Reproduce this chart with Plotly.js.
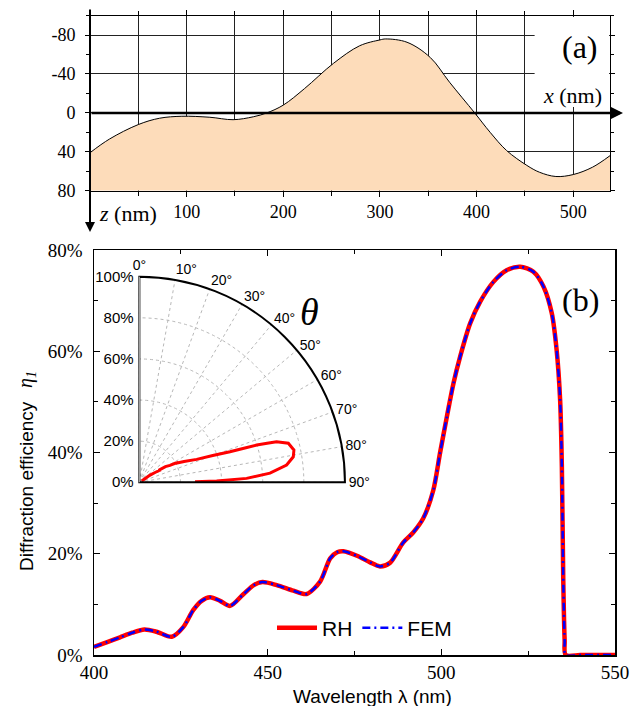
<!DOCTYPE html>
<html>
<head>
<meta charset="utf-8">
<script src="https://cdn.plot.ly/plotly-3.0.1.min.js"></script>
<style>html,body{margin:0;padding:0;background:#fff;}#chart{width:641px;height:706px;}</style>
</head>
<body>
<div id="chart"></div>
<script>
// ---- Panel (a): grating profile ----
const profX = [0, 20, 50, 72, 95, 124, 148, 169, 183, 200, 222, 252, 279, 300, 306, 328, 352, 372, 398, 414, 431, 452, 465, 482, 500, 520, 538];
const profZ = [41, 27, 12, 5.5, 3.5, 4.5, 7, 4, 0, -8, -25, -51, -69, -75, -76, -72.6, -57, -31.5, 0, 20, 38.7, 54, 61, 65.4, 63.4, 55.8, 44];
const profBaseX = [0, 538];
const profBaseZ = [80, 80];
const aYTicks = [-80, -40, 0, 40, 80];
const aYTickText = ['-80', '-40', '0', '40', '80'];
const aXTicks = [100, 200, 300, 400, 500];

// ---- Panel (b): diffraction efficiency ----
const wl = [400, 404, 407.5, 411, 414.5, 418, 422.4, 425.7, 428.6, 431, 433.4, 436.3, 439.2, 443, 446, 448.5, 452.6, 457.4, 461.2, 465.1, 468, 470, 471.8, 475.7, 479.5, 482.3, 485.2, 489, 491.9, 494.8, 497.7, 499.6, 501.6, 503.5, 505.4, 508.3, 511.2, 515, 518.8, 522.7, 526.5, 529.4, 531.8, 533.2, 534.2, 534.7, 535.1, 535.5, 535.8, 540, 545, 550];
const etaRH = [1.6, 2.6, 3.5, 4.4, 5.05, 4.6, 3.6, 5.5, 8.9, 10.7, 11.4, 10.7, 9.7, 12.0, 13.8, 14.4, 13.8, 12.7, 12.05, 14.5, 19.1, 20.3, 20.5, 19.6, 18.3, 17.5, 18.2, 22.2, 24.2, 27, 32.6, 39.8, 47.1, 53.7, 58.9, 65.5, 69.8, 73.7, 76.0, 76.7, 75.7, 72.8, 67.5, 60.2, 50.4, 37.2, 15, 3, 0, 0, 0, 0];
const etaFEM = [1.6, 2.6, 3.5, 4.4, 5.05, 4.6, 3.6, 5.5, 8.9, 10.7, 11.4, 10.7, 9.7, 12.0, 13.8, 14.4, 13.8, 12.7, 12.05, 14.5, 19.1, 20.3, 20.5, 19.6, 18.3, 17.5, 18.2, 22.2, 24.2, 27, 32.6, 39.8, 47.1, 53.7, 58.9, 65.5, 69.8, 73.7, 76.0, 76.7, 75.7, 72.8, 67.5, 60.2, 50.4, 37.2, 15, 3, 0, 0, 0, 0];

// ---- Inset: angular distribution ----
const polTheta = [62, 57, 56, 58, 60, 58, 59, 61, 62, 63, 62.5, 65, 68.2, 70, 71.4, 72, 72.4, 73, 73.5, 75.3, 78.2, 80.6, 83.3, 86, 87.9, 89, 89.4];
const polR = [1.3, 4, 6.3, 9, 12, 11, 14.8, 17, 19.7, 21, 20, 24, 30, 38, 46.5, 54, 59.9, 65, 69.6, 74.9, 76.8, 75.9, 72.1, 63.7, 52.2, 37.6, 27.1];

const SERIF = 'Liberation Serif';
const SANS = 'Liberation Sans';
const W = 641, H = 706;
const px = v => v / W;
const py = v => 1 - v / H;

const traces = [
  {x: profBaseX, y: profBaseZ, xaxis: 'x', yaxis: 'y', mode: 'lines', line: {width: 0, color: 'rgba(0,0,0,0)'}, showlegend: false, hoverinfo: 'skip'},
  {x: profX, y: profZ, xaxis: 'x', yaxis: 'y', mode: 'lines', line: {color: '#000', width: 1, shape: 'spline', smoothing: 1}, fill: 'tonexty', fillcolor: 'rgb(253,220,186)', showlegend: false},
  {x: wl, y: etaRH, xaxis: 'x2', yaxis: 'y2', mode: 'lines', name: 'RH', line: {color: '#ff0000', width: 4.5, shape: 'spline', smoothing: 0.8}},
  {x: wl, y: etaFEM, xaxis: 'x2', yaxis: 'y2', mode: 'lines', name: 'FEM', line: {color: '#0000ff', width: 2.5, dash: '8px,4px,2px,4px', shape: 'spline', smoothing: 0.8}},
  {type: 'scatterpolar', subplot: 'polar2', r: polR, theta: polTheta, mode: 'lines', line: {color: '#ff0000', width: 3}, showlegend: false}
];

const polDomX = [px(139.3), px(345)];
const polDomY = [py(482.3), py(276.7)];

const layout = {
  width: W, height: H,
  margin: {l: 0, r: 0, t: 0, b: 0},
  font: {family: SERIF, size: 18},
  paper_bgcolor: '#fff', plot_bgcolor: '#fff',
  showlegend: true,
  legend: {orientation: 'h', traceorder: 'normal', x: px(272), y: py(628), xanchor: 'left', yanchor: 'middle', bgcolor: 'rgba(0,0,0,0)', font: {family: SANS, size: 21, color: '#000'}, itemwidth: 40},
  xaxis: {
    domain: [px(90), px(610)], range: [0, 538], anchor: 'y',
    tickmode: 'array', tickvals: aXTicks,
    showgrid: true, gridcolor: '#222', gridwidth: 1, zeroline: false,
    showline: true, linecolor: '#000', linewidth: 1, mirror: 'ticks',
    ticks: 'outside', ticklen: 5, tickcolor: '#000',
    minor: {tick0: 0, dtick: 50, showgrid: true, gridcolor: '#222', gridwidth: 1, ticks: 'outside', ticklen: 4, tickcolor: '#000'},
    tickfont: {family: SERIF, size: 18, color: '#000'}
  },
  yaxis: {
    domain: [py(190.7), py(15.6)], range: [80, -100], anchor: 'x',
    tickmode: 'array', tickvals: aYTicks, ticktext: aYTickText,
    showgrid: true, gridcolor: '#222', gridwidth: 1, zeroline: false,
    showline: true, linecolor: '#000', linewidth: 1, mirror: 'ticks',
    ticks: 'outside', ticklen: 4, tickcolor: '#000',
    minor: {dtick: 20, ticks: 'outside', ticklen: 3, tickcolor: '#000', showgrid: false},
    tickfont: {family: SERIF, size: 18, color: '#000'}, ticklabelstandoff: 6
  },
  xaxis2: {
    domain: [px(94), px(615)], range: [400, 550], anchor: 'y2',
    dtick: 50, tick0: 400, showgrid: false, zeroline: false,
    showline: true, linecolor: '#000', linewidth: 1.5, mirror: 'ticks',
    ticks: 'inside', ticklen: 6, tickcolor: '#000', tickwidth: 1.2,
    minor: {dtick: 25, ticks: 'inside', ticklen: 4, tickcolor: '#000'},
    tickfont: {family: SERIF, size: 19, color: '#000'}
  },
  yaxis2: {
    domain: [py(655), py(250)], range: [0, 80], anchor: 'x2',
    dtick: 20, ticksuffix: '%', showgrid: false, zeroline: false,
    showline: true, linecolor: '#000', linewidth: 1.5, mirror: 'ticks',
    ticks: 'inside', ticklen: 6, tickcolor: '#000', tickwidth: 1.2,
    minor: {dtick: 10, ticks: 'inside', ticklen: 4, tickcolor: '#000'},
    tickfont: {family: SERIF, size: 19, color: '#000'}, ticklabelstandoff: 6
  },
  polar: {
    domain: {x: polDomX, y: polDomY}, sector: [0, 90], bgcolor: '#fff', hole: 0,
    angularaxis: {rotation: 90, direction: 'clockwise', tickmode: 'linear', tick0: 0, dtick: 5, showgrid: true, gridcolor: '#e6e6e6', gridwidth: 1, showticklabels: false, ticks: '', showline: false},
    radialaxis: {range: [0, 100], tickmode: 'linear', tick0: 0, dtick: 10, showgrid: true, gridcolor: '#e6e6e6', gridwidth: 1, showticklabels: false, ticks: '', angle: 0, showline: true, linecolor: '#000', linewidth: 2}
  },
  polar2: {
    domain: {x: polDomX, y: polDomY}, sector: [0, 90], bgcolor: 'rgba(0,0,0,0)', hole: 0,
    angularaxis: {rotation: 90, direction: 'clockwise', tickmode: 'linear', tick0: 0, dtick: 10, ticksuffix: '°', showgrid: true, gridcolor: '#b8b8b8', griddash: 'dot', gridwidth: 1, ticks: '', showline: true, linecolor: '#000', linewidth: 2, tickfont: {family: SANS, size: 14, color: '#000'}},
    radialaxis: {range: [0, 100], tickmode: 'linear', tick0: 0, dtick: 20, ticksuffix: '%', showgrid: true, gridcolor: '#b8b8b8', griddash: 'dot', gridwidth: 1, ticks: '', angle: 90, side: 'counterclockwise', tickangle: 90, showline: true, linecolor: '#bdbdbd', linewidth: 1, tickfont: {family: SANS, size: 15, color: '#000'}}
  },
  shapes: [
    {type: 'rect', xref: 'x', yref: 'y', x0: 460, x1: 537, y0: -98.6, y1: -6, fillcolor: '#fff', line: {width: 0}, layer: 'above'}
  ],
  annotations: [
    {xref: 'paper', yref: 'y', x: px(623), y: 0, ax: -533, ay: 0, text: '', showarrow: true, arrowhead: 2, arrowsize: 1, arrowwidth: 2.5, arrowcolor: '#000'},
    {xref: 'x', yref: 'paper', x: 0, y: py(232), ax: 0, ay: -224, text: '', showarrow: true, arrowhead: 2, arrowsize: 1, arrowwidth: 2, arrowcolor: '#000'},
    {xref: 'paper', yref: 'paper', x: px(580), y: py(47), text: '(a)', showarrow: false, font: {family: SERIF, size: 32, color: '#000'}, xanchor: 'center', yanchor: 'middle'},
    {xref: 'paper', yref: 'paper', x: px(572), y: py(96), text: '<i>x</i> (nm)', showarrow: false, font: {family: SERIF, size: 22, color: '#000'}, xanchor: 'center', yanchor: 'middle'},
    {xref: 'paper', yref: 'paper', x: px(128), y: py(213), text: '<i>z</i> (nm)', showarrow: false, font: {family: SERIF, size: 22, color: '#000'}, xanchor: 'center', yanchor: 'middle'},
    {xref: 'paper', yref: 'paper', x: px(580), y: py(300), text: '(b)', showarrow: false, font: {family: SERIF, size: 32, color: '#000'}, xanchor: 'center', yanchor: 'middle'},
    {xref: 'paper', yref: 'paper', x: px(309), y: py(312), text: '<i>θ</i>', showarrow: false, font: {family: SERIF, size: 38, color: '#000'}, xanchor: 'center', yanchor: 'middle'},
    {xref: 'paper', yref: 'paper', x: px(26), y: py(573), text: 'Diffraction efficiency', textangle: -90, showarrow: false, font: {family: SANS, size: 19, color: '#000'}, xanchor: 'center', yanchor: 'bottom'},
    {xref: 'paper', yref: 'paper', x: px(27), y: py(380), text: '<i>η</i><sub><i>1</i></sub>', textangle: -90, showarrow: false, font: {family: SERIF, size: 20, color: '#000'}, xanchor: 'center', yanchor: 'middle'},
    {xref: 'paper', yref: 'paper', x: px(372), y: py(696), text: 'Wavelength λ (nm)', showarrow: false, font: {family: SANS, size: 19, color: '#000'}, xanchor: 'center', yanchor: 'middle'}
  ]
};

Plotly.newPlot('chart', traces, layout, {staticPlot: true, displayModeBar: false});
</script>
</body>
</html>
